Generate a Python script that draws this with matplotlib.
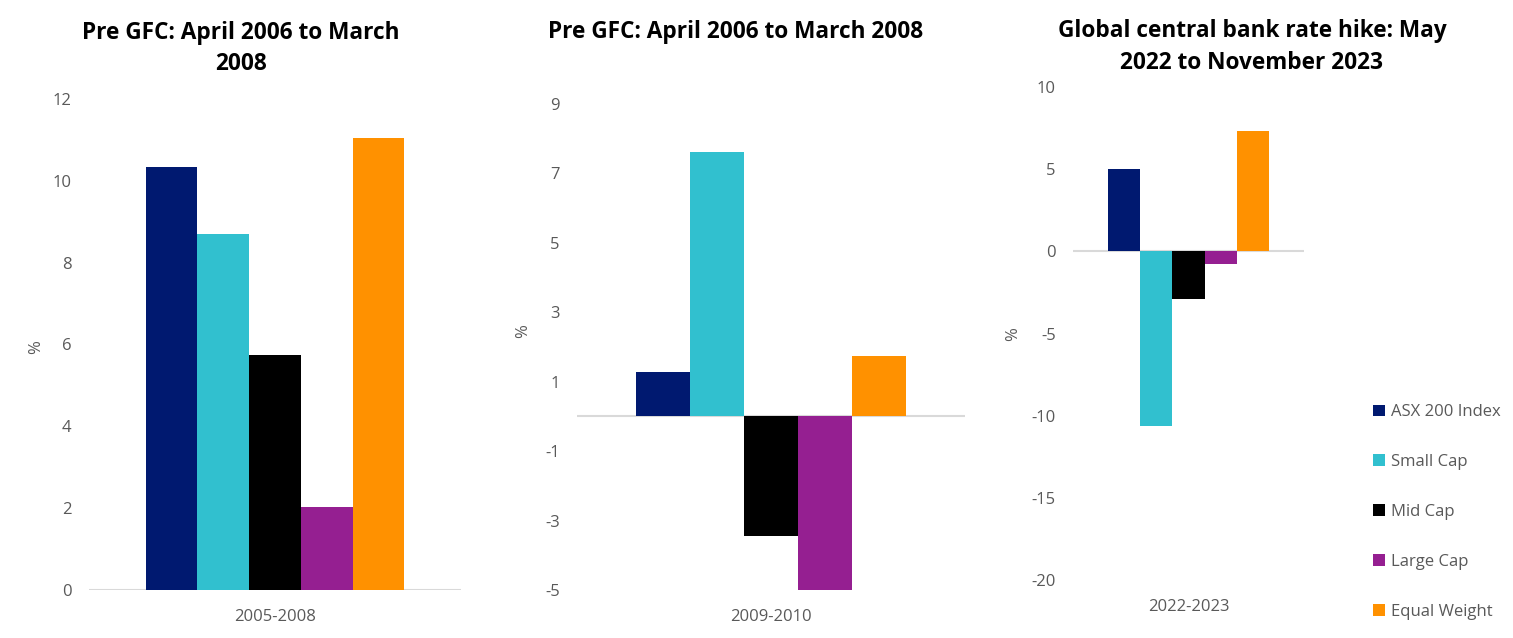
import matplotlib
matplotlib.use("Agg")
import matplotlib.pyplot as plt
from matplotlib.patches import Patch

plt.rcParams['font.family'] = ['Open Sans', 'DejaVu Sans']

# ---- data ----
series = ["ASX 200 Index", "Small Cap", "Mid Cap", "Large Cap", "Equal Weight"]
colors = ["#001970", "#31C0CF", "#000000", "#951F91", "#FF9100"]

titles = ["Pre GFC: April 2006 to March\n2008",
          "Pre GFC: April 2006 to March 2008",
          "Global central bank rate hike: May\n2022 to November 2023"]
periods = ["2005-2008", "2009-2010", "2022-2023"]

values_p1 = [10.35, 8.7, 5.75, 2.02, 11.05]
values_p2 = [1.28, 7.62, -3.44, -5.0, 1.75]
values_p3 = [5.0, -10.6, -2.92, -0.76, 7.3]

yticks_p1 = [0, 2, 4, 6, 8, 10, 12]
yticks_p2 = [-5, -3, -1, 1, 3, 5, 7, 9]
yticks_p3 = [-20, -15, -10, -5, 0, 5, 10]

W, H = 1513, 638
fig = plt.figure(figsize=(W / 100, H / 100), dpi=100)

def axes_px(l, r, t, b):
    return fig.add_axes([l / W, (H - b) / H, (r - l) / W, (b - t) / H])

panels = [
    (axes_px(89, 461, 99, 590), values_p1, yticks_p1, periods[0]),
    (axes_px(577, 965, 104, 590), values_p2, yticks_p2, periods[1]),
    (axes_px(1073, 1304, 87, 580), values_p3, yticks_p3, periods[2]),
]

bw = 0.139
gray = "#595959"
for ax, vals, yt, per in panels:
    for i, (v, c) in enumerate(zip(vals, colors)):
        ax.bar((i - 2) * bw, v, width=bw, color=c, edgecolor="none", zorder=2)
    ax.axhline(0, color="#d9d9d9", lw=1.5, zorder=1)
    ax.set_xlim(-0.5, 0.5)
    ax.set_ylim(yt[0], yt[-1])
    ax.set_yticks(yt)
    ax.set_yticklabels([str(t) for t in yt])
    ax.set_xticks([0])
    ax.set_xticklabels([per])
    ax.tick_params(axis="both", length=0, labelsize=12, colors=gray)
    ax.tick_params(axis="y", pad=12.5)
    ax.tick_params(axis="x", pad=14)
    for s in ax.spines.values():
        s.set_visible(False)
    ax.set_facecolor("none")

# y labels "%"
for x, y in [(36, 347), (523, 331), (1013, 334)]:
    fig.text(x / W, (H - y) / H, "%", rotation=90, ha="center", va="center",
             fontsize=12, color=gray)

# titles
for (x, y), t in zip([(241, 48.5), (736, 32), (1252, 47)], titles):
    fig.text(x / W, (H - y) / H, t, ha="center", va="center", fontsize=16.3,
             fontweight="bold", color="black", linespacing=1.43)

handles = [Patch(facecolor=c, edgecolor="none") for c in colors]
fig.legend(handles, series, loc="center left",
           bbox_to_anchor=(1373 / W, (H - 512) / H), frameon=False,
           fontsize=12, labelcolor=gray, handlelength=0.7, handleheight=0.7,
           handletextpad=0.4, labelspacing=2.03, borderpad=0, borderaxespad=0)

fig.savefig("out.png", dpi=100)
